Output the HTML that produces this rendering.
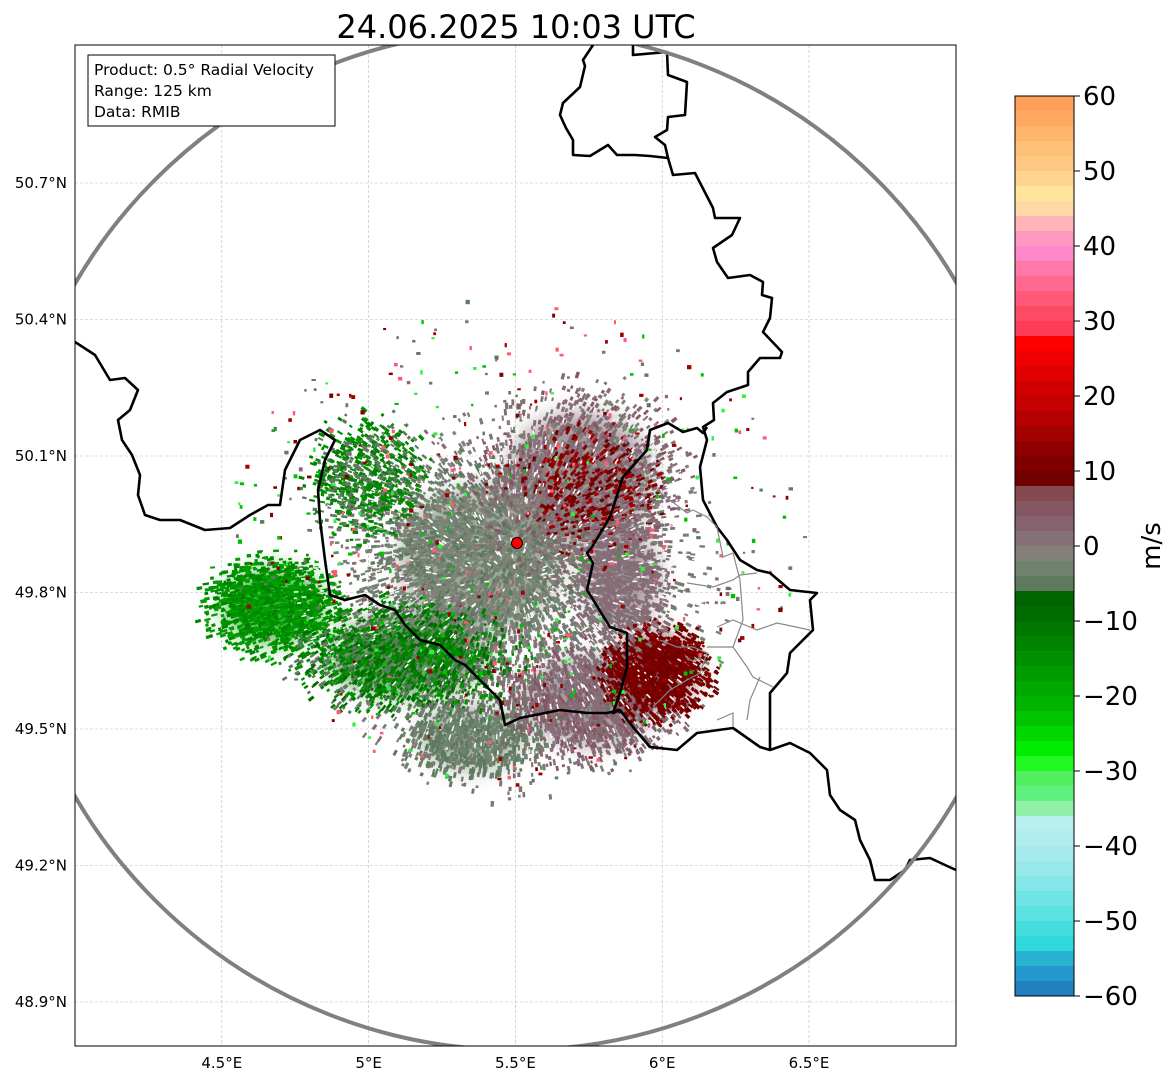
<!DOCTYPE html>
<html><head><meta charset="utf-8">
<style>
body{margin:0;background:#fff;}
svg text{font-family:"DejaVu Sans","Liberation Sans",sans-serif;}
</style></head>
<body>
<svg id="chart" width="1171" height="1081" viewBox="0 0 1171 1081" xmlns="http://www.w3.org/2000/svg">
<text x="516" y="38" font-size="32" text-anchor="middle">24.06.2025 10:03 UTC</text>
<defs>
<clipPath id="mapclip"><rect x="75" y="45" width="881" height="1001"/></clipPath>
<filter id="blur" x="-50%" y="-50%" width="200%" height="200%"><feGaussianBlur stdDeviation="12"/></filter>
</defs>
<g id="grid"></g>
<g id="echoes" clip-path="url(#mapclip)"></g>
<g id="borders" clip-path="url(#mapclip)"></g>
<circle cx="516" cy="540" r="510" fill="none" stroke="#808080" stroke-width="4" clip-path="url(#mapclip)"/>
<circle cx="517" cy="543" r="5.5" fill="#ff0000" stroke="#000" stroke-width="1"/>
<rect x="75" y="45" width="881" height="1001" fill="none" stroke="#000" stroke-width="1"/>
<g>
<rect x="88" y="55" width="247" height="71" fill="#fff" stroke="#000" stroke-width="1"/>
<text x="94" y="75" font-size="15.5">Product: 0.5° Radial Velocity</text>
<text x="94" y="96" font-size="15.5">Range: 125 km</text>
<text x="94" y="117" font-size="15.5">Data: RMIB</text>
</g>
<g id="axes"></g>
<g id="cbar"></g>
<text transform="translate(1160,546) rotate(-90)" font-size="26" text-anchor="middle">m/s</text>
</svg>
<script>
const lonTicks=[4.5,5,5.5,6,6.5];
const lonLabels=["4.5°E","5°E","5.5°E","6°E","6.5°E"];
const latTicks=[50.7,50.4,50.1,49.8,49.5,49.2,48.9];
const latLabels=["50.7°N","50.4°N","50.1°N","49.8°N","49.5°N","49.2°N","48.9°N"];
const cbTicks=[60,50,40,30,20,10,0,-10,-20,-30,-40,-50,-60];
// colorbar bins from +60 down to -60, 2 m/s each
const cbColors=["#ffa05a","#ffa862","#ffb56e","#ffc078","#ffc882","#ffd48e","#ffe49a","#ffd8a8","#ffb4b8","#ff98c0",
"#ff88cc","#ff78a8","#ff6890","#ff5878","#ff4a66","#ff3c58","#ff0000","#f00000","#e00000","#d00000",
"#c40000","#b40000","#a40000","#900000","#800000","#700000","#854a50","#855664","#866270","#867078",
"#848078","#6e826e","#5e7a5e","#006400","#006c00","#007800","#008400","#009000","#009c00","#00a800",
"#00b400","#00c400","#00d800","#00ec00","#20f820","#50f060","#60f080","#90f0a8","#b8eef0","#b0ecee",
"#a4eaec","#96e8ea","#84e6e8","#70e4e4","#5ce0e0","#44dcdc","#2ed8dc","#28b4d0","#2498cc","#2080c0"];
// echo clusters (geographic centre, pixel radii, colours, speck count, base-fill colour or "")
const clusterLon=[5.5,5.38,5.72,5.75,4.68,5.13,5.0,5.98,5.75,5.35,5.86];
const clusterLat=[49.78,49.87,50.05,49.56,49.77,49.66,50.05,49.63,50.03,49.48,49.83];
const clusterRx=[210,120,110,100,75,120,65,60,75,75,55];
const clusterRy=[190,110,100,65,55,60,65,52,65,45,75];
const clusterColor=[["#7c8078","#866a76","#6e826e","#867078"],["#7a8a78","#6e826e","#848078","#5e7a5e"],["#866a76","#867078","#855664","#848078"],["#866a76","#867078","#855664"],["#009000","#00a000","#008400"],["#008000","#006c00","#5e7a5e","#009000"],["#008000","#009000","#5e7a5e"],["#700000","#800000"],["#800000","#700000","#a40000"],["#6e826e","#5e7a5e"],["#866a76","#867078"]];
const clusterCount=[2600,2400,1800,1400,1400,1700,800,1300,380,700,700];
const clusterBase=["","#7c8a7a","#8a7480","#8a7480","#00a000","#2a8a2a","","#700000","","#6e826e","#8a7480"];

const NS="http://www.w3.org/2000/svg";
const X=lon=>75+(lon-4.0)*293.6;
const Y=lat=>183+(50.7-lat)*455;
const cbY=v=>996-(v+60)*7.5;
function mk(tag,attrs,parent){const e=document.createElementNS(NS,tag);for(const k in attrs)e.setAttribute(k,attrs[k]);parent.appendChild(e);return e;}
const grid=document.getElementById('grid'),axes=document.getElementById('axes');
lonTicks.forEach((t,i)=>{
 const l=mk('line',{x1:X(t),x2:X(t),y1:45,y2:1046,stroke:'#bbb','stroke-width':0.6,'stroke-dasharray':'3,2'},grid);
 
 const tx=mk('text',{x:X(t),y:1068,'font-size':15,'text-anchor':'middle'},axes);tx.textContent=lonLabels[i];
 
});
latTicks.forEach((t,i)=>{
 const l=mk('line',{x1:75,x2:956,y1:Y(t),y2:Y(t),stroke:'#bbb','stroke-width':0.6,'stroke-dasharray':'3,2'},grid);
 
 const tx=mk('text',{x:67,y:Y(t)+5,'font-size':15,'text-anchor':'end'},axes);tx.textContent=latLabels[i];
 
});
// colorbar
const cb=document.getElementById('cbar');
const step=120/cbColors.length;
cbColors.forEach((c,i)=>{const vTop=60-i*step;const r=mk('rect',{x:1015,y:cbY(vTop),width:59,height:cbY(vTop-step)-cbY(vTop)+0.5,fill:c},cb);
 });
mk('rect',{x:1015,y:cbY(60),width:59,height:cbY(-60)-cbY(60),fill:'none',stroke:'#000','stroke-width':1},cb);
cbTicks.forEach(t=>{mk('line',{x1:1074,x2:1080,y1:cbY(t),y2:cbY(t),stroke:'#000'},cb);
 const tx=mk('text',{x:1069+14,y:cbY(t)+9,'font-size':26},cb);tx.textContent=(t<0?'\u2212'+(-t):String(t));
 });
// echoes with deterministic texture
const eg=document.getElementById('echoes');
let seed=12345;function rnd(){seed=(seed*1103515245+12345)%2147483648;return seed/2147483648;}
const cx0=X(5.5),cy0=Y(49.92);
const baseG=mk('g',{filter:'url(#blur)',opacity:0.75},eg);
clusterLon.forEach((lo,k)=>{
 if(!clusterBase[k])return;
 const e=mk('ellipse',{cx:X(lo),cy:Y(clusterLat[k]),rx:clusterRx[k]*0.65,ry:clusterRy[k]*0.65,fill:clusterBase[k]},baseG);
 
});
clusterLon.forEach((lo,k)=>{
 const cx=X(lo),cy=Y(clusterLat[k]);
 const g=mk('g',{},eg);
 const cols=clusterColor[k];
 for(let i=0;i<clusterCount[k];i++){
  const a=rnd()*Math.PI*2,r=Math.sqrt(rnd())*(0.5+0.6*rnd());
  const px=cx+Math.cos(a)*r*clusterRx[k],py=cy+Math.sin(a)*r*clusterRy[k];
  const ang=Math.atan2(py-cy0,px-cx0)*180/Math.PI;
  const w=2.5+rnd()*4,h=2+rnd()*1.5;
  mk('rect',{x:px,y:py,width:w,height:h,fill:cols[Math.floor(rnd()*cols.length)],transform:`rotate(${ang.toFixed(1)} ${px.toFixed(1)} ${py.toFixed(1)})`},g);
 }
});
// white gaps texture in core
const gapG=mk('g',{},eg);
for(let i=0;i<700;i++){const a=rnd()*Math.PI*2,r=Math.sqrt(rnd())*200;const px=cx0+Math.cos(a)*r*1.1,py=cy0+40+Math.sin(a)*r*0.9;
 const ang=a*180/Math.PI;mk('rect',{x:px,y:py,width:2+rnd()*4,height:1.5,fill:'#fff',transform:`rotate(${ang.toFixed(1)} ${px.toFixed(1)} ${py.toFixed(1)})`},gapG);}
// scattered speckles
const spk=["#00c000","#a00000","#866a76","#ff5a70","#30f040","#5e7a5e","#800000"];
for(let i=0;i<600;i++){const a=rnd()*Math.PI*2,r=60+rnd()*230;const px=cx0+Math.cos(a)*r,py=cy0+Math.sin(a)*r*0.85;
 mk('rect',{x:px,y:py,width:2+rnd()*2.5,height:2+rnd()*2.5,fill:spk[i%spk.length]},eg);}
// borders
const bd=document.getElementById('borders');
const thick=[
"75,342 95,355 110,380 125,378 138,390 130,410 118,420 122,440 132,455 140,475 138,495 145,515 160,520 180,520 205,530 230,528 250,515 268,505 280,505 285,470 300,440 320,430 335,440 325,460 318,490 320,520 325,560 330,595 345,600 365,595 380,605 395,610 405,625 420,640 440,645 455,660 465,665 480,680 490,690 500,700 505,725 520,718 540,714 560,710 587,713 607,713 620,710 633,727 650,747 677,750 697,733 733,728 760,747 770,750 790,743 810,753 827,770 830,795 840,810 855,820 860,840 870,860 875,880 890,880 905,870 910,860 930,858 945,865 956,870",
"593,45 583,60 585,66 580,87 563,103 560,115 566,128 573,140 573,155 590,156 608,145 617,155 635,155 650,156 668,158",
"633,45 633,55 667,52 668,75 687,82 685,115 668,117 667,130 655,137 665,145 668,158 673,175 695,173 713,208 715,218 740,218 732,235 713,248 717,262 728,278 750,275 763,282 762,295 772,298 770,318 763,332 782,352 780,358 760,358 748,372 748,385 727,392 713,403 714,420 703,427 707,440 700,467 703,500 717,527 727,540 740,560 757,570 770,573 790,590 817,593 810,600 813,630 790,653 787,673 770,693 770,750",
"707,427 703,433 697,428 683,432 668,423 650,430 647,450 623,477 610,517 592,547 587,553 593,563 587,590 610,627 627,633 627,667 620,693 613,713 620,710"];
thick.forEach(p=>{const l=mk('polyline',{points:p,fill:'none',stroke:'#000','stroke-width':2.6,'stroke-linejoin':'round'},bd);
 });
const thin=["657,490 687,513 693,510 707,517 717,527 723,557 733,553","687,583 713,587 733,580 740,575 757,573","717,627 733,620 757,630 777,623 810,630","707,647 733,647 747,667 753,677 773,687","660,640 677,647 693,647 707,653 700,673 687,680 670,690 653,707","717,720 733,713 733,727","733,553 740,580 743,620 733,647","760,677 750,700 747,720"];
thin.forEach(p=>{const l=mk('polyline',{points:p,fill:'none',stroke:'#888','stroke-width':1.2},bd);
 });
</script>
</body></html>
